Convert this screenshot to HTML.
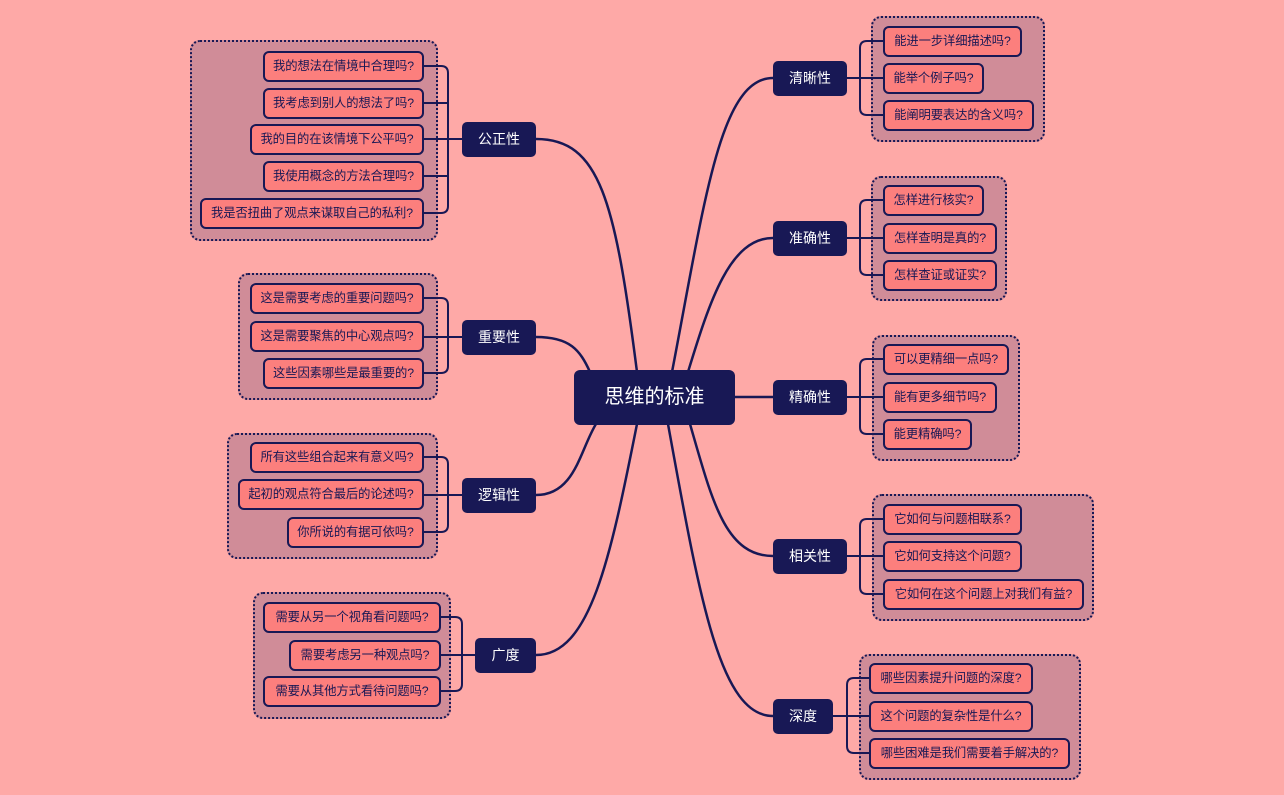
<!DOCTYPE html>
<html><head><meta charset="utf-8"><style>
body{margin:0;width:1284px;height:795px;background:#fea9a7;position:relative;overflow:hidden;font-family:"Liberation Sans","Noto Sans CJK SC",sans-serif}
.g{position:absolute;background:#d08c98;border:2px dotted #181855;border-radius:10px;box-sizing:border-box}
.l{position:absolute;height:31px;box-sizing:border-box;background:#fc7f7d;border:2px solid #181855;border-radius:6px;font-size:12.3px;color:#181855;line-height:27px;padding:0;text-align:center;white-space:nowrap;letter-spacing:-0.1px}
.b{position:absolute;height:35px;box-sizing:border-box;background:#181855;border-radius:5px;color:#fff;font-size:14px;line-height:35px;text-align:center}
svg{position:absolute;left:0;top:0}
</style></head><body>
<div class="g" style="left:190px;top:40px;width:248px;height:201px"></div>
<div class="g" style="left:238px;top:273px;width:200px;height:127px"></div>
<div class="g" style="left:227px;top:433px;width:211px;height:126px"></div>
<div class="g" style="left:253px;top:592px;width:198px;height:127px"></div>
<div class="g" style="left:871px;top:16px;width:174px;height:126px"></div>
<div class="g" style="left:871px;top:176px;width:136px;height:125px"></div>
<div class="g" style="left:872px;top:335px;width:148px;height:126px"></div>
<div class="g" style="left:872px;top:494px;width:222px;height:127px"></div>
<div class="g" style="left:859px;top:654px;width:222px;height:126px"></div>
<svg width="1284" height="795" fill="none" stroke="#181855" stroke-width="2.5">
<path d="M536 139 C600 139 615 200 637 372"/>
<path d="M536 337 C570 337 580 350 590 372"/>
<path d="M536 495 C575 495 580 450 596 424"/>
<path d="M536 655 C590 655 610 560 637 424"/>
<path d="M773 78 C720 78 705 200 672 372"/>
<path d="M773 238 C730 238 710 300 688 372"/>
<path d="M735 397 L773 397"/>
<path d="M773 556 C725 556 712 500 690 424"/>
<path d="M773 716 C720 716 700 600 668 424"/>
<g stroke-width="2">
<path d="M462 139 H424 M424 66 H441 q7 0 7 7 V206 q0 7 -7 7 H424 M424 103 H448 M424 176 H448"/>
<path d="M462 337 H424 M424 298 H441 q7 0 7 7 V366 q0 7 -7 7 H424"/>
<path d="M462 495 H424 M424 457 H441 q7 0 7 7 V525 q0 7 -7 7 H424"/>
<path d="M475 655 H441 M441 617 H455 q7 0 7 7 V684 q0 7 -7 7 H441"/>
<path d="M847 78 H883 M883 41 H867 q-7 0 -7 7 V108 q0 7 7 7 H883"/>
<path d="M847 238 H883 M883 200 H867 q-7 0 -7 7 V268 q0 7 7 7 H883"/>
<path d="M847 397 H883 M883 359 H867 q-7 0 -7 7 V427 q0 7 7 7 H883"/>
<path d="M847 556 H883 M883 519 H867 q-7 0 -7 7 V587 q0 7 7 7 H883"/>
<path d="M833 716 H869 M869 678 H854 q-7 0 -7 7 V746 q0 7 7 7 H869"/>
</g>
</svg>
<div class="b" style="left:574px;top:370px;width:161px;height:55px;line-height:55px;font-size:20px;border-radius:6px">思维的标准</div>
<div class="b" style="left:462px;top:122px;width:74px">公正性</div>
<div class="b" style="left:462px;top:320px;width:74px">重要性</div>
<div class="b" style="left:462px;top:478px;width:74px">逻辑性</div>
<div class="b" style="left:475px;top:638px;width:61px">广度</div>
<div class="b" style="left:773px;top:61px;width:74px">清晰性</div>
<div class="b" style="left:773px;top:221px;width:74px">准确性</div>
<div class="b" style="left:773px;top:380px;width:74px">精确性</div>
<div class="b" style="left:773px;top:539px;width:74px">相关性</div>
<div class="b" style="left:773px;top:699px;width:60px">深度</div>

<div class="l" style="left:263px;top:51px;width:161px">我的想法在情境中合理吗?</div>
<div class="l" style="left:263px;top:88px;width:161px">我考虑到别人的想法了吗?</div>
<div class="l" style="left:250px;top:124px;width:174px">我的目的在该情境下公平吗?</div>
<div class="l" style="left:263px;top:161px;width:161px">我使用概念的方法合理吗?</div>
<div class="l" style="left:200px;top:198px;width:224px">我是否扭曲了观点来谋取自己的私利?</div>

<div class="l" style="left:250px;top:283px;width:174px">这是需要考虑的重要问题吗?</div>
<div class="l" style="left:250px;top:321px;width:174px">这是需要聚焦的中心观点吗?</div>
<div class="l" style="left:263px;top:358px;width:161px">这些因素哪些是最重要的?</div>

<div class="l" style="left:250px;top:442px;width:174px">所有这些组合起来有意义吗?</div>
<div class="l" style="left:238px;top:479px;width:186px">起初的观点符合最后的论述吗?</div>
<div class="l" style="left:287px;top:517px;width:137px">你所说的有据可依吗?</div>

<div class="l" style="left:263px;top:602px;width:178px">需要从另一个视角看问题吗?</div>
<div class="l" style="left:289px;top:640px;width:152px">需要考虑另一种观点吗?</div>
<div class="l" style="left:263px;top:676px;width:178px">需要从其他方式看待问题吗?</div>

<div class="l" style="left:883px;top:26px;width:139px">能进一步详细描述吗?</div>
<div class="l" style="left:883px;top:63px;width:101px">能举个例子吗?</div>
<div class="l" style="left:883px;top:100px;width:151px">能阐明要表达的含义吗?</div>

<div class="l" style="left:883px;top:185px;width:101px">怎样进行核实?</div>
<div class="l" style="left:883px;top:223px;width:114px">怎样查明是真的?</div>
<div class="l" style="left:883px;top:260px;width:114px">怎样查证或证实?</div>

<div class="l" style="left:883px;top:344px;width:126px">可以更精细一点吗?</div>
<div class="l" style="left:883px;top:382px;width:114px">能有更多细节吗?</div>
<div class="l" style="left:883px;top:419px;width:89px">能更精确吗?</div>

<div class="l" style="left:883px;top:504px;width:139px">它如何与问题相联系?</div>
<div class="l" style="left:883px;top:541px;width:139px">它如何支持这个问题?</div>
<div class="l" style="left:883px;top:579px;width:201px">它如何在这个问题上对我们有益?</div>

<div class="l" style="left:869px;top:663px;width:164px">哪些因素提升问题的深度?</div>
<div class="l" style="left:869px;top:701px;width:164px">这个问题的复杂性是什么?</div>
<div class="l" style="left:869px;top:738px;width:201px">哪些困难是我们需要着手解决的?</div>
</body></html>
